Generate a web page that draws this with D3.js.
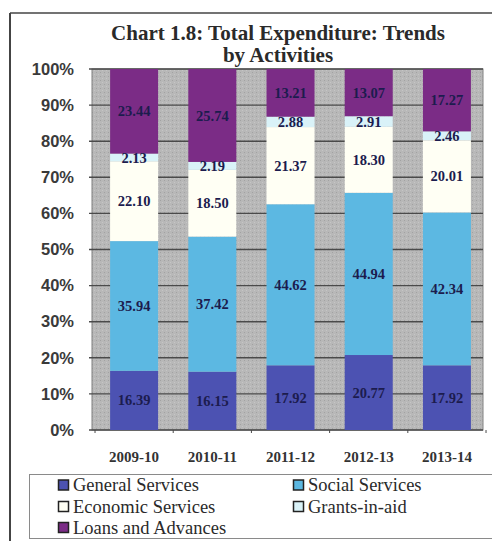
<!DOCTYPE html>
<html>
<head>
<meta charset="utf-8">
<script src="https://cdn.jsdelivr.net/npm/d3@7/dist/d3.min.js"></script>
<style>
  html, body { margin: 0; padding: 0; background: #ffffff; }
  svg { display: block; }
</style>
</head>
<body>
<svg id="chart" width="492" height="541"></svg>
<script>
// Share of total expenditure by activity, per year (percent)
const years = ["2009-10", "2010-11", "2011-12", "2012-13", "2013-14"];
const seriesNames = ["General Services", "Social Services", "Economic Services", "Grants-in-aid", "Loans and Advances"];
const generalServices  = [16.39, 16.15, 17.92, 20.77, 17.92];
const socialServices   = [35.94, 37.42, 44.62, 44.94, 42.34];
const economicServices = [22.10, 18.50, 21.37, 18.30, 20.01];
const grantsInAid      = [2.13, 2.19, 2.88, 2.91, 2.46];
const loansAdvances    = [23.44, 25.74, 13.21, 13.07, 17.27];
const yTicks = [0, 10, 20, 30, 40, 50, 60, 70, 80, 90, 100];

const seriesColors = ["#4c52b2", "#5cb8e2", "#fffff4", "#d9f2f8", "#7b2c86"];

const rows = years.map((yr, i) => ({
  year: yr,
  "General Services": generalServices[i],
  "Social Services": socialServices[i],
  "Economic Services": economicServices[i],
  "Grants-in-aid": grantsInAid[i],
  "Loans and Advances": loansAdvances[i]
}));

const svg = d3.select("#chart");
const plot = { left: 92, right: 483, top: 69, bottom: 430 };

const x = d3.scaleBand().domain(years).range([plot.left, plot.right])
  .paddingInner(0.386).paddingOuter(0.193).align(0.6);
const y = d3.scaleLinear().domain([0, 100]).range([plot.bottom, plot.top]);
const color = d3.scaleOrdinal().domain(seriesNames).range(seriesColors);

// Speckled grey plot background
const defs = svg.append("defs");
const pat = defs.append("pattern").attr("id", "speckle")
  .attr("width", 4).attr("height", 4).attr("patternUnits", "userSpaceOnUse");
pat.append("rect").attr("width", 4).attr("height", 4).attr("fill", "#b8b8b8");
pat.append("rect").attr("x", 0).attr("y", 0).attr("width", 1).attr("height", 1).attr("fill", "#a2a2a2");
pat.append("rect").attr("x", 2).attr("y", 2).attr("width", 1).attr("height", 1).attr("fill", "#c6c6c6");

// Outer frame (left and top edges)
svg.append("line").attr("x1", 10).attr("x2", 10).attr("y1", 13).attr("y2", 541)
  .attr("stroke", "#444").attr("stroke-width", 2);
svg.append("line").attr("x1", 10).attr("x2", 492).attr("y1", 13).attr("y2", 13)
  .attr("stroke", "#444").attr("stroke-width", 1.5);

// Title
const title = svg.append("text").attr("text-anchor", "middle")
  .attr("font-family", "'Liberation Serif', 'Times New Roman', serif")
  .attr("font-weight", "bold").attr("font-size", 21).attr("fill", "#2a2a2a");
title.append("tspan").attr("x", 278).attr("y", 40).text("Chart 1.8: Total Expenditure: Trends");
title.append("tspan").attr("x", 278).attr("y", 62).text("by Activities");

// Plot area
svg.append("rect").attr("x", plot.left).attr("y", plot.top)
  .attr("width", plot.right - plot.left).attr("height", plot.bottom - plot.top)
  .attr("fill", "url(#speckle)").attr("stroke", "#808080").attr("stroke-width", 1);

// Horizontal gridlines
svg.append("g").selectAll("line").data(yTicks).join("line")
  .attr("x1", plot.left - 3).attr("x2", plot.right)
  .attr("y1", d => y(d)).attr("y2", d => y(d))
  .attr("stroke", "#4a4a4a").attr("stroke-width", 1.4);

// Y axis labels
svg.append("g").selectAll("text").data(yTicks).join("text")
  .attr("x", 74).attr("y", d => y(d)).attr("dy", "0.35em")
  .attr("text-anchor", "end")
  .attr("font-family", "'Liberation Sans', Arial, sans-serif")
  .attr("font-weight", "bold").attr("font-size", 16.5).attr("fill", "#3a3a3a")
  .text(d => d + "%");

// Category boundary ticks on the x axis
const step = x.step();
const gap = step - x.bandwidth();
const boundaries = years.map(d => x(d) - gap / 2)
  .concat([x(years[years.length - 1]) + x.bandwidth() + gap / 2]);
svg.append("g").selectAll("line").data(boundaries).join("line")
  .attr("x1", d => d).attr("x2", d => d)
  .attr("y1", plot.bottom).attr("y2", plot.bottom + 3)
  .attr("stroke", "#4a4a4a").attr("stroke-width", 1);

// Stacked bars
const stacked = d3.stack().keys(seriesNames)(rows);
const layers = svg.append("g").selectAll("g").data(stacked).join("g")
  .attr("fill", d => color(d.key));
layers.selectAll("rect").data(d => d).join("rect")
  .attr("x", d => x(d.data.year))
  .attr("width", x.bandwidth())
  .attr("y", d => y(d[1]))
  .attr("height", d => y(d[0]) - y(d[1]));

// Segment value labels, centred in each segment
const labels = svg.append("g")
  .attr("font-family", "'Liberation Serif', 'Times New Roman', serif")
  .attr("font-weight", "bold").attr("font-size", 14.5).attr("fill", "#1c1c4e")
  .attr("text-anchor", "middle");
stacked.forEach(layer => {
  labels.selectAll(null).data(layer).join("text")
    .attr("x", d => x(d.data.year) + x.bandwidth() / 2)
    .attr("y", d => y((d[0] + d[1]) / 2)).attr("dy", "0.35em")
    .text(d => d.data[layer.key].toFixed(2));
});

// X axis category labels
svg.append("g").selectAll("text").data(years).join("text")
  .attr("x", d => x(d) + x.bandwidth() / 2).attr("y", 462)
  .attr("text-anchor", "middle")
  .attr("font-family", "'Liberation Serif', 'Times New Roman', serif")
  .attr("font-weight", "bold").attr("font-size", 15).attr("fill", "#333")
  .text(d => d);

// Legend
svg.append("rect").attr("x", 29.5).attr("y", 474.5).attr("width", 470).attr("height", 64)
  .attr("fill", "none").attr("stroke", "#8a8a8a").attr("stroke-width", 1);
const legendPos = [[58, 485], [293, 485], [58, 506.5], [293, 506.5], [58, 527.5]];
const legend = svg.append("g").selectAll("g").data(seriesNames).join("g")
  .attr("transform", (d, i) => `translate(${legendPos[i][0]},${legendPos[i][1]})`);
legend.append("rect").attr("x", 0.5).attr("y", -5).attr("width", 10).attr("height", 10)
  .attr("fill", d => color(d)).attr("stroke", "#222").attr("stroke-width", 1.5);
legend.append("text").attr("x", 15).attr("dy", "0.35em")
  .attr("font-family", "'Liberation Serif', 'Times New Roman', serif")
  .attr("font-size", 18.5).attr("fill", "#2a2a2a")
  .text(d => d);
</script>
</body>
</html>
